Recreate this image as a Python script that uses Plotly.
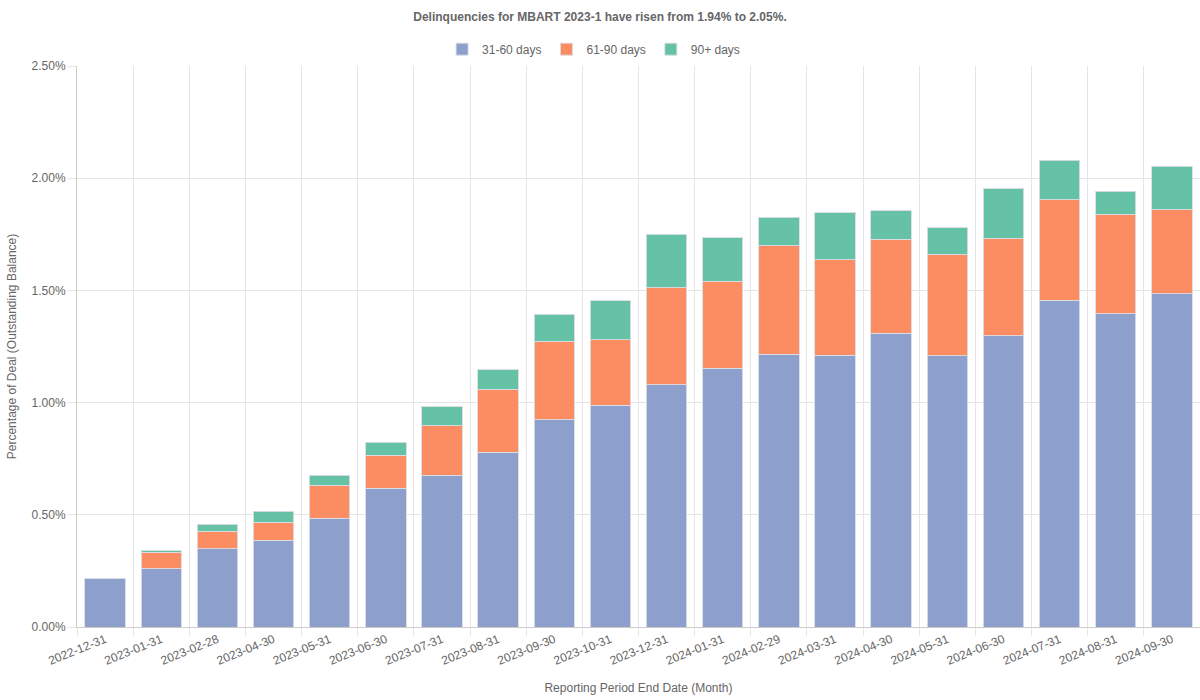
import plotly.graph_objects as go

dates = ["2022-12-31", "2023-01-31", "2023-02-28", "2023-04-30", "2023-05-31",
         "2023-06-30", "2023-07-31", "2023-08-31", "2023-09-30", "2023-10-31",
         "2023-12-31", "2024-01-31", "2024-02-29", "2024-03-31", "2024-04-30",
         "2024-05-31", "2024-06-30", "2024-07-31", "2024-08-31", "2024-09-30"]

d31_60 = [0.217, 0.260, 0.348, 0.387, 0.485, 0.619, 0.677, 0.779, 0.923, 0.989,
          1.079, 1.154, 1.216, 1.212, 1.310, 1.209, 1.297, 1.457, 1.395, 1.484]
d61_90 = [0.000, 0.073, 0.079, 0.079, 0.147, 0.146, 0.219, 0.281, 0.350, 0.290,
          0.433, 0.386, 0.484, 0.424, 0.417, 0.449, 0.433, 0.447, 0.445, 0.376]
d90p = [0.000, 0.007, 0.030, 0.050, 0.045, 0.058, 0.085, 0.086, 0.120, 0.175,
        0.238, 0.195, 0.125, 0.210, 0.128, 0.121, 0.224, 0.177, 0.102, 0.194]

series = [("31-60 days", d31_60, "#8DA0CB"),
          ("61-90 days", d61_90, "#FC8D62"),
          ("90+ days", d90p, "#66C2A5")]

font_family = "Liberation Sans, Arial, sans-serif"
grey = "#666666"

fig = go.Figure()
for name, vals, col in series:
    fig.add_trace(go.Bar(
        x=dates, y=vals, name=name,
        marker=dict(color=col, line=dict(color="rgba(220,220,230,0.9)", width=1)),
        hovertemplate="%{x}<br>" + name + ": %{y:.2f}%<extra></extra>",
    ))

fig.update_layout(
    width=1200, height=700,
    barmode="stack", bargap=0.28,
    paper_bgcolor="white", plot_bgcolor="white",
    margin=dict(l=77, r=0, t=66, b=73),
    font=dict(family=font_family, size=12, color=grey),
    title=dict(text="<b>Delinquencies for MBART 2023-1 have risen from 1.94% to 2.05%.</b>",
               x=0.5, xanchor="center", y=0.976, yanchor="middle",
               font=dict(size=12, color=grey)),
    legend=dict(orientation="h", x=0.46, xanchor="center", y=1.030, yanchor="middle",
                font=dict(size=12, color=grey), traceorder="normal"),
    xaxis=dict(
        type="category", tickson="boundaries", tickangle=-22,
        showgrid=True, gridcolor="#e5e5e5", gridwidth=1,
        ticks="outside", ticklen=8, tickcolor="#e5e5e5",
        showline=True, linecolor="#cccccc", linewidth=1,
        title=dict(text="Reporting Period End Date (Month)", standoff=16,
                   font=dict(size=12, color=grey)),
        tickfont=dict(size=12, color=grey),
    ),
    yaxis=dict(
        range=[0, 2.5], dtick=0.5, tickformat=".2f", ticksuffix="%",
        showgrid=True, gridcolor="#e5e5e5", gridwidth=1,
        ticks="outside", ticklen=8, tickcolor="#e5e5e5",
        showline=True, linecolor="#cccccc", linewidth=1,
        zeroline=False,
        title=dict(text="Percentage of Deal (Outstanding Balance)", standoff=12,
                   font=dict(size=12, color=grey)),
        tickfont=dict(size=12, color=grey),
    ),
)

fig.write_html("out.html", config={"displayModeBar": False},
               post_script="document.body.style.margin='0';")
